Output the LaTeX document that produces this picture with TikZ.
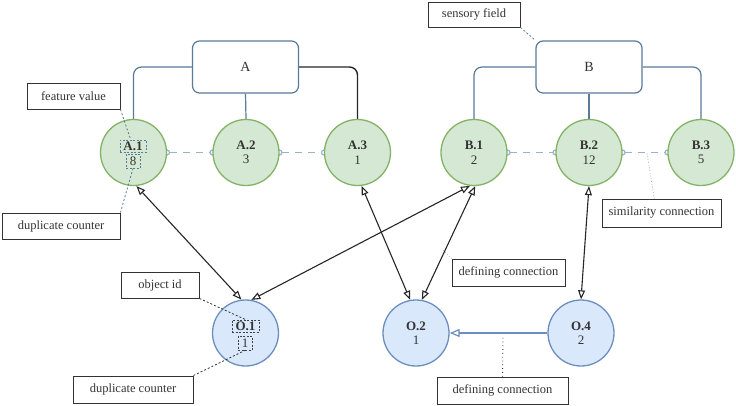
\documentclass[tikz,border=0pt]{standalone}
\usepackage{fontspec}
\setmainfont{Liberation Serif}
\usetikzlibrary{arrows.meta,backgrounds,calc}
\definecolor{gfill}{HTML}{D5E8D4}
\definecolor{gline}{HTML}{82B366}
\definecolor{bfill}{HTML}{DAE8FC}
\definecolor{bline}{HTML}{6C8EBF}
\definecolor{slate}{HTML}{5A7A9A}
\definecolor{simc}{HTML}{9AB2C8}
\definecolor{txt}{HTML}{333333}
\begin{document}
\begin{tikzpicture}[x=1pt,y=-1pt,
 feat/.style={circle,draw=gline,fill=gfill,line width=1.3pt,minimum size=66pt,inner sep=0pt,align=center,font=\fontsize{13}{14.5}\selectfont,text=txt},
 obj/.style={feat,draw=bline,fill=bfill},
 field/.style={draw=slate,rounded corners=7pt,line width=1.2pt,minimum width=106pt,minimum height=52pt,font=\fontsize{14}{16}\selectfont,text=txt,fill=white},
 note/.style={draw=black!80,line width=0.9pt,fill=white,font=\fontsize{12.5}{14}\selectfont,text=txt,inner sep=0pt},
 tag/.style={draw=slate,dash pattern=on 2pt off 1.5pt,line width=0.8pt,inner sep=0pt,font=\fontsize{13}{14.5}\selectfont,text=txt},
 tagk/.style={tag,draw=black!75},
 link/.style={draw=slate,line width=1.2pt},
 sim/.style={draw=simc,line width=1.2pt,dash pattern=on 7pt off 6pt,{Circle[open,length=6pt,width=6pt]}-{Circle[open,length=6pt,width=6pt]},shorten <=-3pt,shorten >=-3pt},
 defc/.style={draw=black!85,line width=1.1pt,{Triangle[open,length=9pt,width=7pt]}-{Triangle[open,length=9pt,width=7pt]}},
 lead/.style={draw=slate,line width=0.8pt,dash pattern=on 2pt off 2pt},
 leadk/.style={draw=black!80,line width=0.8pt,dash pattern=on 2pt off 2pt},
 dotk/.style={draw=black!80,line width=0.9pt,dash pattern=on 0.8pt off 3pt},
 dotg/.style={draw=gray!70,line width=0.7pt,dash pattern=on 0.8pt off 2pt},
]
\useasboundingbox (0,0) rectangle (736,405);

% sensory fields
\node[field] (A) at (245.5,67) {A};
\node[field] (B) at (589,67) {B};

% feature circles
\node[feat] (A1) at (133.5,152.5) {};
\node[feat] (A2) at (246,152.5) {\textbf{A.2}\\3};
\node[feat] (A3) at (357.5,152.5) {\textbf{A.3}\\1};
\node[feat] (B1) at (474,152.5) {\textbf{B.1}\\2};
\node[feat] (B2) at (589,152.5) {\textbf{B.2}\\12};
\node[feat] (B3) at (701,152.5) {\textbf{B.3}\\5};

% object circles
\node[obj] (O1) at (245.5,333) {};
\node[obj] (O2) at (416,333) {\textbf{O.2}\\1};
\node[obj] (O4) at (581,333) {\textbf{O.4}\\2};

% tagged labels
\node[tag,minimum width=26pt,minimum height=12pt] (A1lab) at (133,146) {\textbf{A.1}};
\node[tag,minimum width=14pt,minimum height=14pt] (A1cnt) at (133,161) {8};
\node[tagk,minimum width=27pt,minimum height=12pt] (O1lab) at (245.5,326) {\textbf{O.1}};
\node[tagk,minimum width=14pt,minimum height=14pt] (O1cnt) at (245,343) {1};

% connections in background
\begin{scope}[on background layer]
 \draw[link,rounded corners=8pt] (A.west) -| (A1.north);
 \draw[link] (A.south) -- (A2.north);
 \draw[draw=black!85,line width=1.4pt,rounded corners=8pt] (A.east) -| (A3.north);
 \draw[link,rounded corners=8pt] (B.west) -| (B1.north);
 \draw[link] (B.south) -- (B2.north);
 \draw[link,rounded corners=8pt] (B.east) -| (B3.north);
 \draw[sim] (A1.east) -- (A2.west);
 \draw[sim] (A2.east) -- (A3.west);
 \draw[sim] (B1.east) -- (B2.west);
 \draw[sim] (B2.east) -- (B3.west);
\end{scope}

% defining connections
\draw[defc] (A1.-85) -- (O1.97);
\draw[defc] (B1.-97) -- (O1.80);
\draw[defc] (A3.-83) -- (O2.100);
\draw[defc] (B1.-88) -- (O2.80);
\draw[defc] (B2.south) -- (O4.north);
\draw[draw=bline,line width=1.2pt,-{Triangle[open,length=10pt,width=8pt]}] (O4.west) -- (O2.east);

% annotation boxes
\node[note,minimum width=93pt,minimum height=26pt] (fv) at (73.5,96) {feature value};
\node[note,minimum width=118pt,minimum height=26pt] (dc1) at (61,226) {duplicate counter};
\node[note,minimum width=92pt,minimum height=25pt] (sf) at (474,14.5) {sensory field};
\node[note,minimum width=119pt,minimum height=28pt] (sc) at (661.5,213) {similarity connection};
\node[note,minimum width=113pt,minimum height=27pt] (dcm) at (508.5,272.5) {defining connection};
\node[note,minimum width=78pt,minimum height=26pt] (oid) at (160,285) {object id};
\node[note,minimum width=120pt,minimum height=27pt] (dc2) at (133,389.5) {duplicate counter};
\node[note,minimum width=131pt,minimum height=27pt] (dcb) at (502.5,390.5) {defining connection};

% leaders
\coordinate (simpt) at (647,153);
\coordinate (dpt) at (442,249);
\coordinate (dpt2) at (503,337);
\draw[lead] (fv.south east) -- (A1lab.110);
\draw[lead] (dc1.north east) -- (A1cnt.south);
\draw[lead] (sf.south east) -- (B.north west);
\draw[dotg] ($(sc.north west)!0.44!(sc.north east)$) -- (simpt);
\draw[dotg] (dcm.north west) -- (dpt);
\draw[leadk] (oid.south east) -- (O1lab.north);
\draw[leadk] (dc2.north east) -- (O1cnt.south);
\draw[dotk] (dcb.north) -- (dpt2);
\end{tikzpicture}
\end{document}
